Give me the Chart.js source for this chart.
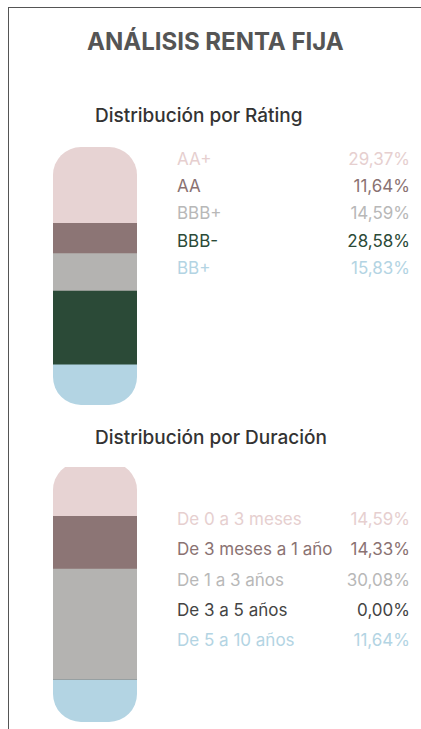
<!DOCTYPE html>
<html>
<head>
<meta charset="utf-8">
<script src="https://cdn.jsdelivr.net/npm/chart.js@4.4.1/dist/chart.umd.min.js"></script>
<style>
  body { margin: 0; width: 421px; height: 729px; background: #fff; position: relative; overflow: hidden; font-family: Inter, "Noto Sans", sans-serif; }
  .frame { position: absolute; left: 8px; top: 7px; right: 0; bottom: 0; border-left: 1.5px solid #555; border-top: 1.5px solid #555; }
  .title { position: absolute; left: 87px; top: 27px; font-size: 24px; line-height: 30px; font-weight: 700; color: #555; }
  .sub { position: absolute; left: 95px; font-size: 19px; line-height: 22px; font-weight: 500; color: #333; }
  .legend { position: absolute; left: 177px; width: 233px; }
  .row { position: absolute; left: 0; right: 0; height: 20px; line-height: 20px; display: flex; justify-content: space-between; font-size: 17px; }
  .wrap { position: absolute; left: 53px; overflow: hidden; }
  .wrap canvas { position: absolute; left: 0; }
</style>
</head>
<body>
<div class="frame"></div>
<div class="title">ANÁLISIS RENTA FIJA</div>
<div class="sub" style="top:105px">Distribución por Ráting</div>
<div class="sub" style="top:427px">Distribución por Duración</div>

<div class="wrap" style="top:147px;width:84px;height:258px"><canvas id="ratingChart" width="84" height="258" style="top:0"></canvas></div>
<div class="wrap" style="top:467px;width:84px;height:255px"><canvas id="durationChart" width="84" height="260" style="top:-5px"></canvas></div>

<div class="legend" id="ratingLegend" style="top:149px"></div>
<div class="legend" id="durationLegend" style="top:509px"></div>

<script>
const ratingLabels = ['AA+', 'AA', 'BBB+', 'BBB-', 'BB+'];
const ratingValues = [29.37, 11.64, 14.59, 28.58, 15.83];
const ratingColors = ['#e7d3d3', '#8c7575', '#b4b3b1', '#2b4a37', '#b3d4e3'];
const ratingTextColors = ['#e6cfcf', '#8a7272', '#b8b8b8', '#2b4a37', '#b3d4e3'];

const durationLabels = ['De 0 a 3 meses', 'De 3 meses a 1 año', 'De 1 a 3 años', 'De 3 a 5 años', 'De 5 a 10 años'];
const durationValues = [14.59, 14.33, 30.08, 0.00, 11.64];
const durationColors = ['#e7d3d3', '#8c7575', '#b4b3b1', '#444444', '#b3d4e3'];
const durationTextColors = ['#e6cfcf', '#8a7272', '#b8b8b8', '#444444', '#b3d4e3'];

function fmt(v) {
    return v.toFixed(2).replace('.', ',') + '%';
}

// rounded pill clip around the chart area
const pillClip = {
    id: 'pillClip',
    beforeDatasetsDraw(chart) {
        const a = chart.chartArea;
        const r = 28;
        const ctx = chart.ctx;
        ctx.save();
        ctx.beginPath();
        ctx.roundRect(a.left, a.top, a.right - a.left, a.bottom - a.top, r);
        ctx.clip();
    },
    afterDatasetsDraw(chart) {
        chart.ctx.restore();
    }
};

function makeBar(id, labels, values, colors) {
    const total = values.reduce((s, v) => s + v, 0);
    const datasets = labels.map(function (l, i) {
        return {
            label: l,
            data: [values[i]],
            backgroundColor: colors[i],
            borderWidth: 0,
            borderSkipped: false,
            barPercentage: 1,
            categoryPercentage: 1
        };
    });
    return new Chart(document.getElementById(id), {
        type: 'bar',
        data: { labels: [''], datasets: datasets },
        options: {
            responsive: false,
            animation: false,
            layout: { padding: 0 },
            scales: {
                x: { stacked: true, display: false },
                y: { stacked: true, display: false, reverse: true, min: 0, max: total }
            },
            plugins: {
                legend: { display: false },
                tooltip: { enabled: false }
            }
        },
        plugins: [pillClip]
    });
}

function makeLegend(id, labels, values, colors, step) {
    const box = document.getElementById(id);
    labels.forEach(function (l, i) {
        const row = document.createElement('div');
        row.className = 'row';
        row.style.top = (i * step) + 'px';
        row.style.color = colors[i];
        row.innerHTML = '<span>' + l + '</span><span>' + fmt(values[i]) + '</span>';
        box.appendChild(row);
    });
}

makeBar('ratingChart', ratingLabels, ratingValues, ratingColors);
makeBar('durationChart', durationLabels, durationValues, durationColors);
makeLegend('ratingLegend', ratingLabels, ratingValues, ratingTextColors, 27.2);
makeLegend('durationLegend', durationLabels, durationValues, durationTextColors, 30.3);
</script>
</body>
</html>
